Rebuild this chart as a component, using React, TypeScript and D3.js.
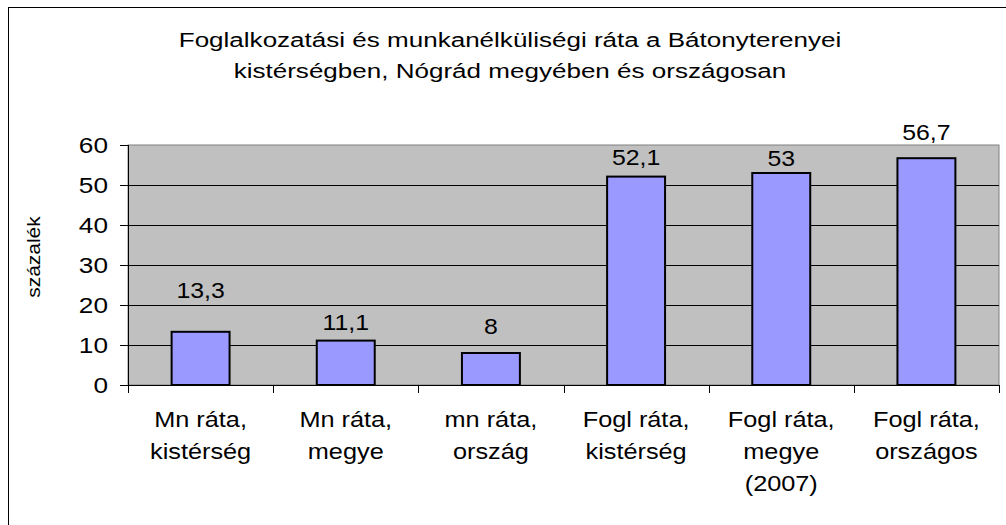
import React from "react";
import * as d3 from "d3";

// Adatok
const categories = [
  "Mn ráta, kistérség",
  "Mn ráta, megye",
  "mn ráta, ország",
  "Fogl ráta, kistérség",
  "Fogl ráta, megye (2007)",
  "Fogl ráta, országos",
];
const categoryLines = [
  ["Mn ráta,", "kistérség"],
  ["Mn ráta,", "megye"],
  ["mn ráta,", "ország"],
  ["Fogl ráta,", "kistérség"],
  ["Fogl ráta,", "megye", "(2007)"],
  ["Fogl ráta,", "országos"],
];
const values = [13.3, 11.1, 8, 52.1, 53, 56.7];
const valueLabels = ["13,3", "11,1", "8", "52,1", "53", "56,7"];
// the labels were moved by hand in the original, level in data units
const labelLevels = [21.7, 13.75, 12.75, 55, 54.75, 61.25];
const yTicks = [0, 10, 20, 30, 40, 50, 60];
const titleLines = [
  "Foglalkozatási és munkanélküliségi ráta a Bátonyterenyei",
  "kistérségben, Nógrád megyében és országosan",
];
const yLabel = "százalék";

const FONT = "'Liberation Sans', Arial, sans-serif";
const SX = 1.2; // Excel render looks stretched sideways

const W = 1006;
const H = 525;
const plot = { left: 128, right: 999, top: 145, bottom: 385 };

const SText: React.FC<{
  x: number;
  y: number;
  size: number;
  anchor?: "start" | "middle" | "end";
  sx?: number;
  rotate?: number;
  dy?: string;
  children: React.ReactNode;
}> = ({ x, y, size, anchor = "middle", sx = SX, rotate = 0, dy, children }) => (
  <g transform={`translate(${x},${y}) rotate(${rotate}) scale(${sx},1)`}>
    <text textAnchor={anchor} fontFamily={FONT} fontSize={size} fill="#000" dy={dy}>
      {children}
    </text>
  </g>
);

const App: React.FC = () => {
  const x = d3
    .scaleBand<string>()
    .domain(categories)
    .range([plot.left, plot.right])
    .paddingInner(0.587)
    .paddingOuter(0.2935);

  const y = d3.scaleLinear().domain([0, 60]).range([plot.bottom, plot.top]);

  const step = x.step();
  const boundaries = d3.range(categories.length + 1).map((i) => plot.left + i * step);

  return (
    <svg width={W} height={H} style={{ display: "block", position: "absolute", left: 0, top: 0 }}>
      <rect x={0} y={0} width={W} height={H} fill="#fff" />
      {/* külső keret */}
      <rect x={8.5} y={7.5} width={1020} height={540} fill="none" stroke="#000" strokeWidth={1} />

      {/* cím */}
      {titleLines.map((t, i) => (
        <SText key={i} x={510} y={47 + i * 31} size={21} sx={1.24}>
          {t}
        </SText>
      ))}

      {/* rajzterület */}
      <rect
        x={plot.left}
        y={plot.top}
        width={plot.right - plot.left}
        height={plot.bottom - plot.top}
        fill="#c0c0c0"
        stroke="#808080"
        strokeWidth={1}
      />

      {/* rácsvonalak */}
      {yTicks
        .filter((t) => t > 0 && t < 60)
        .map((t) => (
          <line key={t} x1={plot.left} x2={plot.right} y1={y(t) + 0.5} y2={y(t) + 0.5} stroke="#000" strokeWidth={1} />
        ))}

      {/* oszlopok */}
      {categories.map((c, i) => (
        <rect
          key={c}
          x={(x(c) as number) + 1}
          y={y(values[i])}
          width={x.bandwidth() - 2}
          height={y(0) - y(values[i])}
          fill="#9999ff"
          stroke="#000"
          strokeWidth={2}
        />
      ))}

      {/* tengelyek */}
      <line x1={plot.left + 0.5} x2={plot.left + 0.5} y1={plot.top} y2={plot.bottom} stroke="#000" strokeWidth={1} />
      <line x1={plot.left} x2={plot.right} y1={plot.bottom + 0.5} y2={plot.bottom + 0.5} stroke="#000" strokeWidth={1} />

      {yTicks.map((t) => (
        <g key={t}>
          <line x1={plot.left - 8} x2={plot.left} y1={y(t) + 0.5} y2={y(t) + 0.5} stroke="#000" strokeWidth={1} />
          <SText x={108} y={y(t)} size={21.5} anchor="end" dy="0.36em" sx={1.22}>
            {t}
          </SText>
        </g>
      ))}

      {boundaries.map((bx, i) => (
        <line
          key={i}
          x1={Math.round(bx) + 0.5}
          x2={Math.round(bx) + 0.5}
          y1={plot.bottom}
          y2={plot.bottom + 8}
          stroke="#000"
          strokeWidth={1}
        />
      ))}

      {/* értékcímkék */}
      {categories.map((c, i) => (
        <SText key={c} x={(x(c) as number) + x.bandwidth() / 2} y={y(labelLevels[i])} size={22} sx={1.13}>
          {valueLabels[i]}
        </SText>
      ))}

      {/* kategóriacímkék */}
      {categories.map((c, i) => (
        <g key={c}>
          {categoryLines[i].map((line, j) => (
            <SText key={j} x={(x(c) as number) + x.bandwidth() / 2} y={427 + j * 32} size={22} sx={1.15}>
              {line}
            </SText>
          ))}
        </g>
      ))}

      {/* y tengely felirata */}
      <SText x={33} y={257} size={19} rotate={-90} sx={1.1} dy="0.35em">
        {yLabel}
      </SText>
    </svg>
  );
};

export default App;
